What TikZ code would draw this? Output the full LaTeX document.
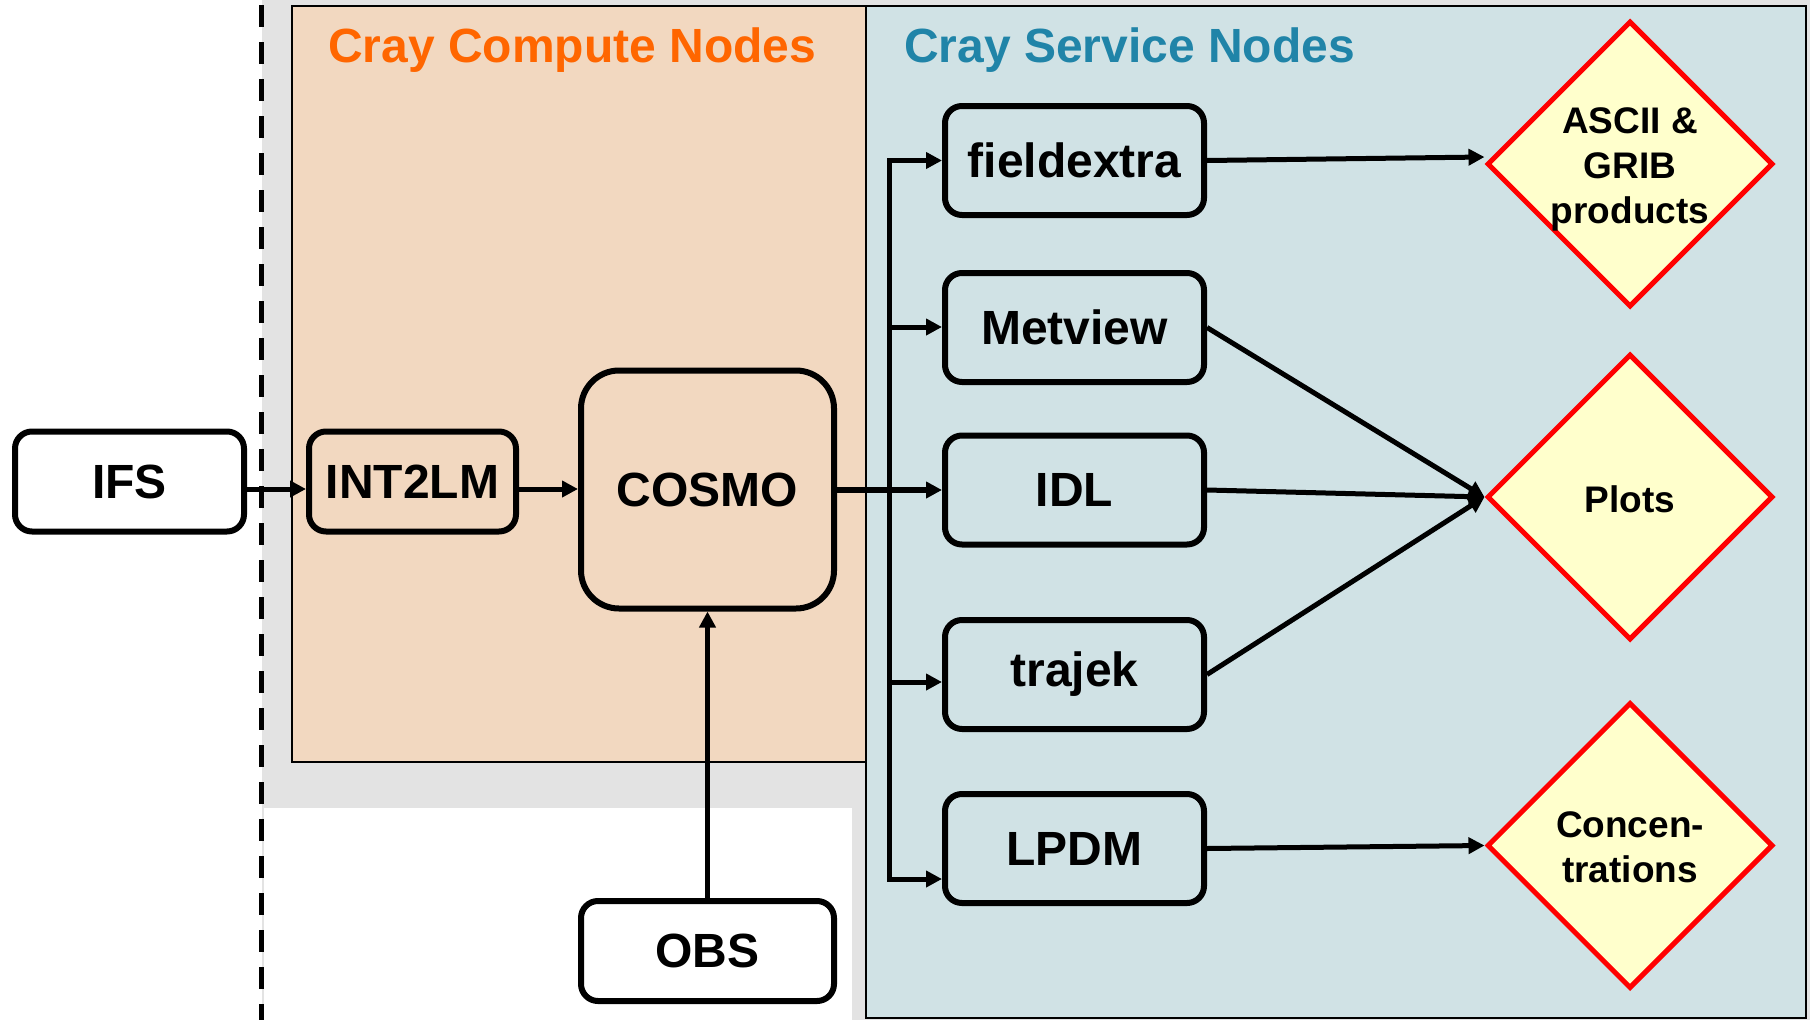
\documentclass[tikz,border=0pt]{standalone}
\usepackage{fontspec}
\setmainfont{Liberation Sans}
\usetikzlibrary{shapes.geometric,arrows.meta}
\definecolor{cgrey}{HTML}{E3E3E3}
\definecolor{corange}{HTML}{F2D8C0}
\definecolor{cblue}{HTML}{D0E2E5}
\definecolor{ctitleo}{HTML}{FF6600}
\definecolor{ctitleb}{HTML}{2084A8}
\definecolor{cyel}{HTML}{FFFFCC}
\begin{document}
\begin{tikzpicture}[x=1pt,y=-1pt,
  box/.style={draw=black, line width=6pt, rounded corners=17pt, inner sep=0pt,
    minimum width=259pt, minimum height=109pt, fill=cblue,
    font=\fontsize{48}{57}\selectfont\bfseries},
  prod/.style={diamond, aspect=1, draw=red, line width=5pt, fill=cyel, inner sep=0pt, minimum size=286pt},
  prodtxt/.style={font=\fontsize{37}{45}\selectfont\bfseries, align=center, inner sep=0pt},
  title/.style={anchor=base west, inner sep=0pt, font=\fontsize{48}{58}\selectfont\bfseries},
  region/.style={draw=black, line width=2pt},
  arr/.style={line width=5pt, -{Triangle[length=16pt,width=16pt]}},
]
\useasboundingbox (0,0) rectangle (1810,1020);
% backgrounds
\fill[cgrey] (262,0) rectangle (1810,1020);
\fill[white] (264,808) rectangle (852,1020);
\draw[region, fill=corange] (292,6) rectangle (866,762);
\draw[region, fill=cblue] (866,6) rectangle (1806,1018);
\node[title, text=ctitleo] (t1) at (328,62) {Cray Compute Nodes};
\node[title, text=ctitleb] (t2) at (904,62) {Cray Service Nodes};
% dashed separator
\draw[line width=5pt, dash pattern=on 22pt off 15pt] (261,5) -- (261,1020);

% nodes
\node[box, fill=white, minimum width=229pt, minimum height=100pt] (ifs) at (129.5,481.5) {IFS};
\node[box, fill=corange, minimum width=207pt, minimum height=100pt] (int) at (412.5,481.5) {INT2LM};
\node[box, fill=corange, minimum width=253pt, minimum height=238pt, rounded corners=38pt] (cosmo) at (707.5,489.5) {COSMO};
\node[box, fill=white, minimum width=253pt, minimum height=100pt] (obs) at (707.5,951) {OBS};

\node[box] (fx) at (1074.5,160.5) {fieldextra};
\node[box] (mv) at (1074.5,327.5) {Metview};
\node[box] (idl) at (1074.5,490) {IDL};
\node[box] (tj) at (1074.5,674.5) {trajek};
\node[box] (lp) at (1074.5,848.5) {LPDM};

\node[prod] (ascii) at (1630,164) {};
\node[prodtxt] (asciiT) at (1630,169) {ASCII \&\\GRIB\\products};
\node[prod] (plots) at (1630,497) {};
\node[prodtxt] (plotsT) at (1630,499) {Plots};
\node[prod] (conc) at (1630,845.5) {};
\node[prodtxt] (concT) at (1630,847) {Concen-\\trations};

% connectors
\coordinate (y489) at (0,489);
\draw[arr] (ifs.east |- y489) -- (int.west |- y489);
\draw[arr] (int.east |- y489) -- (cosmo.west |- y489);
\draw[arr] (obs.north) -- (cosmo.south);
\draw[arr, line width=6pt] (cosmo.east |- idl.west) -- (idl.west);

\coordinate (b1) at (889,160.5);
\coordinate (b2) at (889,327);
\coordinate (b3) at (889,490);
\coordinate (b4) at (889,682);
\coordinate (b5) at (889,879);
\draw[line width=5pt, line cap=rect] (b1) -- (b5);
\draw[arr] (b1) -- (fx.west |- b1);
\draw[arr] (b2) -- (mv.west |- b2);
\draw[arr] (b4) -- (tj.west |- b4);
\draw[arr] (b5) -- (lp.west |- b5);

\draw[arr] (fx.east) -- ([yshift=7pt]ascii.west);
\draw[arr] (mv.east) -- (plots.west);
\draw[arr] (idl.east) -- (plots.west);
\draw[arr] (tj.east) -- (plots.west);
\draw[arr] (lp.east) -- (conc.west);
\end{tikzpicture}
\end{document}
